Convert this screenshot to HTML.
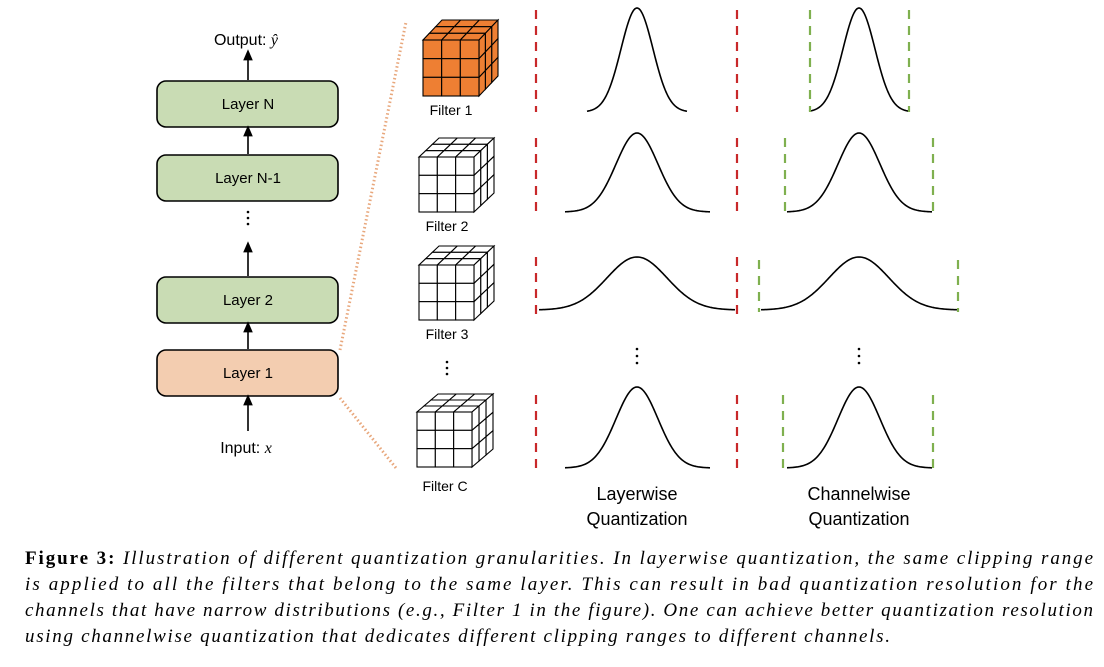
<!DOCTYPE html>
<html><head><meta charset="utf-8"><style>
html,body{margin:0;padding:0;background:#fff;}
svg{display:block;}
.s{font-family:"Liberation Sans",sans-serif;}
.c{font-family:"Liberation Serif",serif;font-size:19px;}
</style></head><body>
<svg id="g" width="1104" height="667" viewBox="0 0 1104 667" xmlns="http://www.w3.org/2000/svg">
<defs><marker id="ah" markerWidth="8" markerHeight="8" refX="4" refY="4" orient="auto"><path d="M0,1 L7,4 L0,7 Z" fill="#000"/></marker></defs>
<!-- layer boxes -->
<g stroke="#000" stroke-width="1.6">
<rect x="157" y="81" width="181" height="46" rx="9" fill="#c9dcb4"/>
<rect x="157" y="155" width="181" height="46" rx="9" fill="#c9dcb4"/>
<rect x="157" y="277" width="181" height="46" rx="9" fill="#c9dcb4"/>
<rect x="157" y="350" width="181" height="46" rx="9" fill="#f3cdb0"/>
</g>
<g class="s" font-size="15" text-anchor="middle">
<text x="248" y="109">Layer N</text>
<text x="248" y="183">Layer N-1</text>
<text x="248" y="305">Layer 2</text>
<text x="248" y="378">Layer 1</text>
<text x="246" y="45" font-size="16">Output: <tspan font-family="Liberation Serif" font-style="italic">ŷ</tspan></text>
<text x="246" y="453" font-size="16">Input: <tspan font-family="Liberation Serif" font-style="italic">x</tspan></text>
</g>
<g stroke="#000" stroke-width="1.6" marker-end="url(#ah)">
<line x1="248" y1="80" x2="248" y2="54"/>
<line x1="248" y1="154" x2="248" y2="130"/>
<line x1="248" y1="276" x2="248" y2="246"/>
<line x1="248" y1="349" x2="248" y2="326"/>
<line x1="248" y1="431" x2="248" y2="399"/>
</g>
<g fill="#000"><circle cx="248" cy="212" r="1.3"/><circle cx="248" cy="218" r="1.3"/><circle cx="248" cy="224" r="1.3"/>
<circle cx="447" cy="362" r="1.3"/><circle cx="447" cy="368" r="1.3"/><circle cx="447" cy="374" r="1.3"/>
<circle cx="637" cy="349" r="1.3"/><circle cx="637" cy="356" r="1.3"/><circle cx="637" cy="363" r="1.3"/>
<circle cx="859" cy="349" r="1.3"/><circle cx="859" cy="356" r="1.3"/><circle cx="859" cy="363" r="1.3"/></g>
<g stroke="#e8a77c" stroke-width="3" stroke-dasharray="1.5 2.5">
<line x1="340" y1="350" x2="406" y2="22"/>
<line x1="340" y1="398" x2="396" y2="468"/>
</g>
<g id="cubes"></g>
<g class="s" font-size="14" text-anchor="middle">
<text x="451" y="115">Filter 1</text>
<text x="447" y="231">Filter 2</text>
<text x="447" y="339">Filter 3</text>
<text x="445" y="491">Filter C</text>
<text x="637" y="500" font-size="18">Layerwise</text>
<text x="637" y="525" font-size="18">Quantization</text>
<text x="859" y="500" font-size="18">Channelwise</text>
<text x="859" y="525" font-size="18">Quantization</text>
</g>
<g id="curves" fill="none" stroke="#000" stroke-width="1.6"></g>
<g id="dash" stroke-width="2.2" stroke-dasharray="9 7"></g>
<g class="c">
<text x="25" y="564" textLength="1068" lengthAdjust="spacing"><tspan font-weight="bold">Figure 3:</tspan><tspan font-style="italic"> Illustration of different quantization granularities. In layerwise quantization, the same clipping range</tspan></text>
<text x="25" y="590" textLength="1068" lengthAdjust="spacing" font-style="italic">is applied to all the filters that belong to the same layer. This can result in bad quantization resolution for the</text>
<text x="25" y="616" textLength="1068" lengthAdjust="spacing" font-style="italic">channels that have narrow distributions (e.g., Filter 1 in the figure). One can achieve better quantization resolution</text>
<text x="25" y="642" textLength="865" lengthAdjust="spacing" font-style="italic">using channelwise quantization that dedicates different clipping ranges to different channels.</text>
</g>
</svg>
<script>
var NS="http://www.w3.org/2000/svg";
function el(p,t,a){var e=document.createElementNS(NS,t);for(var k in a)e.setAttribute(k,a[k]);p.appendChild(e);return e;}
var cubes=document.getElementById('cubes');
function cube(x,y,s,dx,dy,fill){
  // front face x..x+s, y..y+s ; depth dx,dy (dy negative)
  var g=el(cubes,'g',{stroke:'#000','stroke-width':1.1,fill:fill});
  var n=3,c=s/n;
  // top face
  for(var d=n-1;d>=0;d--){for(var i=0;i<n;i++){
    var ox=dx*d/n,oy=dy*d/n,ox2=dx*(d+1)/n,oy2=dy*(d+1)/n;
    el(g,'polygon',{points:[x+i*c+ox,y+oy, x+(i+1)*c+ox,y+oy, x+(i+1)*c+ox2,y+oy2, x+i*c+ox2,y+oy2].join(' ')});
  }}
  // side face
  for(var d=n-1;d>=0;d--){for(var j=0;j<n;j++){
    var ox=dx*d/n,oy=dy*d/n,ox2=dx*(d+1)/n,oy2=dy*(d+1)/n;
    el(g,'polygon',{points:[x+s+ox,y+j*c+oy, x+s+ox2,y+j*c+oy2, x+s+ox2,y+(j+1)*c+oy2, x+s+ox,y+(j+1)*c+oy].join(' ')});
  }}
  for(var i=0;i<n;i++)for(var j=0;j<n;j++)el(g,'rect',{x:x+i*c,y:y+j*c,width:c,height:c});
}
cube(423,40,56,19,-20,'#ee7f33');
cube(419,157,55,20,-19,'#fff');
cube(419,265,55,20,-19,'#fff');
cube(417,412,55,21,-18,'#fff');
var cv=document.getElementById('curves');
function gauss(cx,x0,x1,top,base,sig){
  var d='';for(var x=x0;x<=x1;x+=1){var y=base-(base-top)*Math.exp(-Math.pow((x-cx)/sig,2)/2);d+=(x==x0?'M':'L')+x+','+y.toFixed(2);}
  el(cv,'path',{d:d});
}
[[637,0],[859,0]].forEach(function(p){var c=p[0];
 gauss(c,c-50,c+50,8,112,16);
 gauss(c,c-72,c+73,133,212,21);
 gauss(c,c-98,c+98,257,310,30);
 gauss(c,c-72,c+73,387,468,21);
});
var ds=document.getElementById('dash');
function vl(x,y0,y1,col){el(ds,'line',{x1:x,y1:y0,x2:x,y2:y1,stroke:col});}
var R='#c8282a',G='#7fb04f';
[[10,112],[138,213],[257,315],[395,468]].forEach(function(r){vl(536,r[0],r[1],R);vl(737,r[0],r[1],R);});
vl(810,10,112,G);vl(909,10,112,G);
vl(785,138,213,G);vl(933,138,213,G);
vl(759,260,312,G);vl(958,260,312,G);
vl(783,395,468,G);vl(933,395,468,G);
</script>
</body></html>
